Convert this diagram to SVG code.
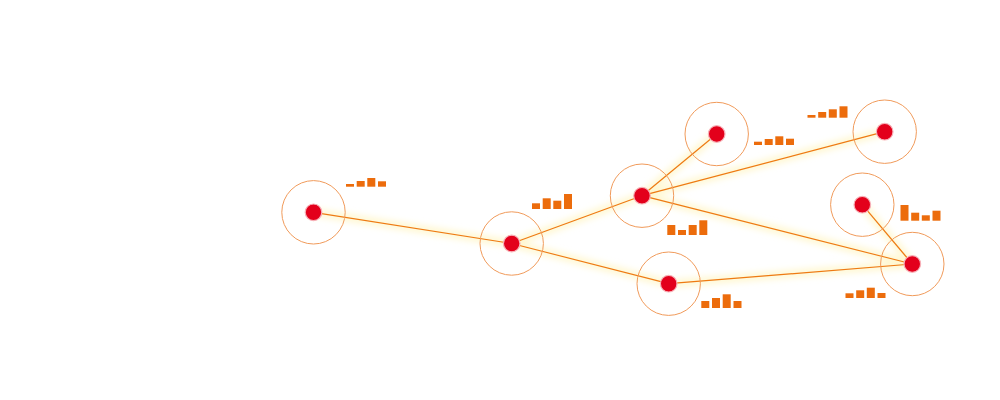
<svg xmlns="http://www.w3.org/2000/svg" width="1000" height="400" viewBox="0 0 1000 400">
<defs>
<filter id="glow" x="-20%" y="-50%" width="140%" height="200%"><feGaussianBlur stdDeviation="3"/></filter>
<style>
.halo{stroke:#fff6c8;stroke-width:8;fill:none;opacity:0.8}
.edge{stroke:#ee7a12;stroke-width:1.2;fill:none}
.ring{fill:none;stroke:#f09a5a;stroke-width:1}
.dot{fill:#e3001b;stroke:#f7b0b8;stroke-width:1.2}
.bar{fill:#ec6c0c}
</style>
</defs>
<rect width="1000" height="400" fill="#ffffff"/>
<g id="connectors">
<g filter="url(#glow)">
<line class="halo" x1="313.5" y1="212.3" x2="511.7" y2="243.5"/>
<line class="halo" x1="511.7" y1="243.5" x2="642" y2="195.7"/>
<line class="halo" x1="511.7" y1="243.5" x2="668.7" y2="283.7"/>
<line class="halo" x1="642" y1="195.7" x2="716.7" y2="134"/>
<line class="halo" x1="642" y1="195.7" x2="884.7" y2="131.7"/>
<line class="halo" x1="642" y1="195.7" x2="912.3" y2="264"/>
<line class="halo" x1="862.3" y1="204.7" x2="912.3" y2="264"/>
<line class="halo" x1="668.7" y1="283.7" x2="912.3" y2="264"/>
</g>
<line class="edge" x1="313.5" y1="212.3" x2="511.7" y2="243.5"/>
<line class="edge" x1="511.7" y1="243.5" x2="642" y2="195.7"/>
<line class="edge" x1="511.7" y1="243.5" x2="668.7" y2="283.7"/>
<line class="edge" x1="642" y1="195.7" x2="716.7" y2="134"/>
<line class="edge" x1="642" y1="195.7" x2="884.7" y2="131.7"/>
<line class="edge" x1="642" y1="195.7" x2="912.3" y2="264"/>
<line class="edge" x1="862.3" y1="204.7" x2="912.3" y2="264"/>
<line class="edge" x1="668.7" y1="283.7" x2="912.3" y2="264"/>
</g>
<g id="nodeA">
<circle class="ring" cx="313.5" cy="212.3" r="31.7"/>
<circle class="dot" cx="313.5" cy="212.3" r="8.3"/>
<rect class="bar" x="346" y="184" width="8" height="2.7"/>
<rect class="bar" x="356.7" y="181" width="8" height="5.7"/>
<rect class="bar" x="367.3" y="178" width="8" height="8.7"/>
<rect class="bar" x="378" y="181.3" width="8" height="5.4"/>
</g>
<g id="nodeB">
<circle class="ring" cx="511.7" cy="243.5" r="31.7"/>
<circle class="dot" cx="511.7" cy="243.5" r="8.3"/>
<rect class="bar" x="532" y="203.3" width="8" height="5.7"/>
<rect class="bar" x="542.7" y="198.3" width="8" height="10.7"/>
<rect class="bar" x="553.3" y="200.7" width="8" height="8.3"/>
<rect class="bar" x="564" y="194" width="8" height="15"/>
</g>
<g id="nodeC">
<circle class="ring" cx="642" cy="195.7" r="31.7"/>
<circle class="dot" cx="642" cy="195.7" r="8.3"/>
<rect class="bar" x="667.3" y="225" width="8" height="10"/>
<rect class="bar" x="678" y="230" width="8" height="5"/>
<rect class="bar" x="688.7" y="225" width="8" height="10"/>
<rect class="bar" x="699.3" y="220.3" width="8" height="14.7"/>
</g>
<g id="nodeD">
<circle class="ring" cx="716.7" cy="134" r="31.7"/>
<circle class="dot" cx="716.7" cy="134" r="8.3"/>
<rect class="bar" x="754" y="141.7" width="8" height="3.3"/>
<rect class="bar" x="764.7" y="139" width="8" height="6"/>
<rect class="bar" x="775.3" y="136.3" width="8" height="8.7"/>
<rect class="bar" x="786" y="138.7" width="8" height="6.3"/>
</g>
<g id="nodeE">
<circle class="ring" cx="884.7" cy="131.7" r="31.7"/>
<circle class="dot" cx="884.7" cy="131.7" r="8.3"/>
<rect class="bar" x="807.5" y="115" width="8" height="2.7"/>
<rect class="bar" x="818.2" y="112" width="8" height="5.7"/>
<rect class="bar" x="828.8" y="109.3" width="8" height="8.4"/>
<rect class="bar" x="839.5" y="106.3" width="8" height="11.4"/>
</g>
<g id="nodeF">
<circle class="ring" cx="862.3" cy="204.7" r="31.7"/>
<circle class="dot" cx="862.3" cy="204.7" r="8.3"/>
<rect class="bar" x="900.5" y="205" width="8" height="15.7"/>
<rect class="bar" x="911.2" y="212.7" width="8" height="8"/>
<rect class="bar" x="921.8" y="215.3" width="8" height="5.4"/>
<rect class="bar" x="932.5" y="210.7" width="8" height="10"/>
</g>
<g id="nodeG">
<circle class="ring" cx="912.3" cy="264" r="31.7"/>
<circle class="dot" cx="912.3" cy="264" r="8.3"/>
<rect class="bar" x="845.5" y="293.3" width="8" height="4.7"/>
<rect class="bar" x="856.2" y="290.3" width="8" height="7.7"/>
<rect class="bar" x="866.8" y="287.7" width="8" height="10.3"/>
<rect class="bar" x="877.5" y="293" width="8" height="5"/>
</g>
<g id="nodeH">
<circle class="ring" cx="668.7" cy="283.7" r="31.7"/>
<circle class="dot" cx="668.7" cy="283.7" r="8.3"/>
<rect class="bar" x="701.3" y="301" width="8" height="7"/>
<rect class="bar" x="712" y="298" width="8" height="10"/>
<rect class="bar" x="722.7" y="294.3" width="8" height="13.7"/>
<rect class="bar" x="733.5" y="301" width="8" height="7"/>
</g>
</svg>
